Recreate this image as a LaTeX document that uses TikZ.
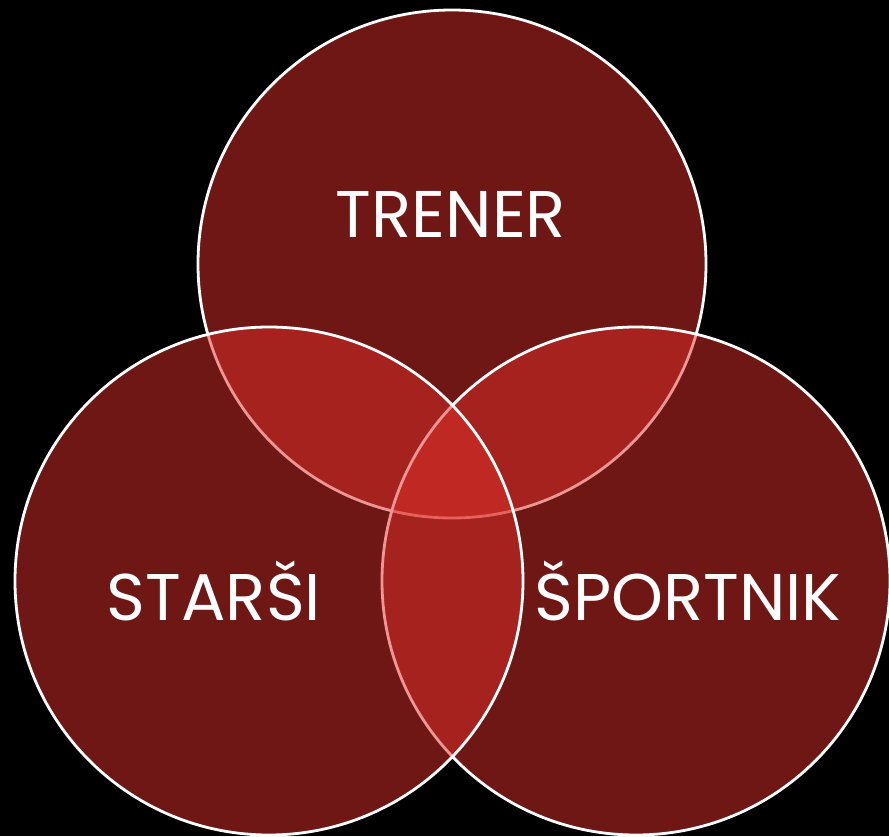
\documentclass[tikz,border=0pt]{standalone}
\usepackage{fontspec}
\setmainfont{Poppins}
\definecolor{vred}{RGB}{220,46,40}
\begin{document}
\begin{tikzpicture}[x=1pt,y=-1pt,
  venn/.style={circle,minimum size=508pt,inner sep=0pt,fill=vred,fill opacity=0.5,draw=white,draw opacity=1,line width=2.8pt},
  lbl/.style={text=white,font=\fontsize{66}{68}\selectfont,inner sep=0pt,anchor=base}]
\fill[black] (0,0) rectangle (889,836);
\useasboundingbox (0,0) rectangle (889,836);
\node[venn] (top) at (452,264) {};
\node[venn] (right) at (636,581) {};
\node[venn] (left) at (269,581) {};
\node[lbl] (tT) at (451,237) {TRENER};
\node[lbl] (tS) at (214,620) {STARŠI};
\node[lbl] (tP) at (688,620) {ŠPORTNIK};
\end{tikzpicture}
\end{document}
